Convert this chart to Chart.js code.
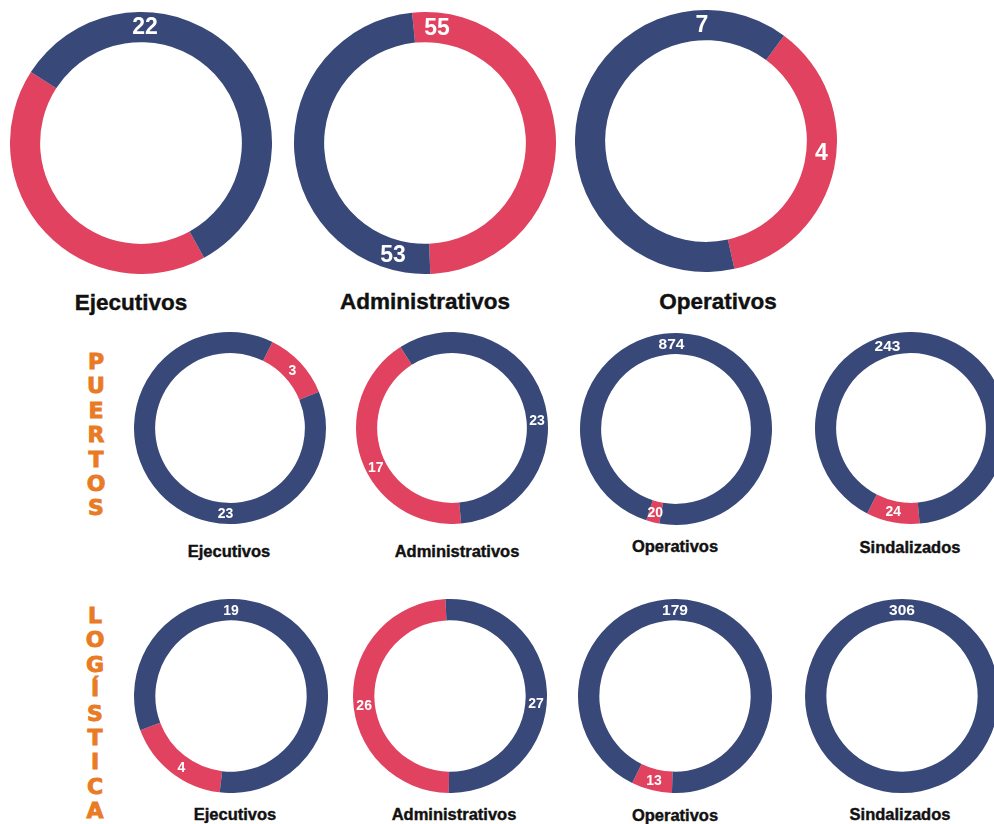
<!DOCTYPE html>
<html>
<head>
<meta charset="utf-8">
<script src="https://cdn.jsdelivr.net/npm/chart.js@4.4.1/dist/chart.umd.min.js"></script>
<style>
  body { margin: 0; width: 994px; height: 824px; overflow: hidden; background: #fff; position: relative;
         font-family: "Liberation Sans", Arial, sans-serif; }
  canvas { position: absolute; }
  .name { position: absolute; font-weight: bold; color: #111; line-height: 1; white-space: nowrap;
          transform: translate(-50%, -50%); -webkit-text-stroke: 0.4px #111; }
  .big { font-size: 22.5px; }
  .small { font-size: 16.5px; }
  .side { position: absolute; width: 20px; color: #E97B25; font-weight: bold; font-size: 22px;
          font-family: "DejaVu Sans", sans-serif; -webkit-text-stroke: 0.9px #E97B25;
          line-height: 24.4px; text-align: center; word-break: break-all; }
</style>
</head>
<body>

<div class="side" id="sidePuertos" style="left:86px; top:350px;"></div>
<div class="side" id="sideLogistica" style="left:85px; top:604px;"></div>

<canvas id="g0" width="262" height="262" style="left:10px; top:12px;"></canvas>
<canvas id="g1" width="262" height="262" style="left:294px; top:12px;"></canvas>
<canvas id="g2" width="262" height="262" style="left:575px; top:10px;"></canvas>

<canvas id="p0" width="192" height="192" style="left:134px; top:332px;"></canvas>
<canvas id="p1" width="192" height="192" style="left:356px; top:332px;"></canvas>
<canvas id="p2" width="192" height="192" style="left:580px; top:333px;"></canvas>
<canvas id="p3" width="192" height="192" style="left:815px; top:332px;"></canvas>

<canvas id="l0" width="194" height="194" style="left:134px; top:599px;"></canvas>
<canvas id="l1" width="194" height="194" style="left:353px; top:599px;"></canvas>
<canvas id="l2" width="194" height="194" style="left:578px; top:599px;"></canvas>
<canvas id="l3" width="194" height="194" style="left:805px; top:599px;"></canvas>

<script>
const groupNames = ["PUERTOS", "LOGÍSTICA"];
const generalCategories = ["Ejecutivos", "Administrativos", "Operativos"];
const categories = ["Ejecutivos", "Administrativos", "Operativos", "Sindalizados"];

// navy and red parts of each ring
const generalNavy = [22, 53, 7];
const generalRed = [16, 55, 4];     // first one has no number printed, estimated from the arc
const puertosNavy = [23, 23, 874, 243];
const puertosRed = [3, 17, 20, 24];
const logisticaNavy = [19, 27, 179, 306];
const logisticaRed = [4, 26, 13, 0];

const NAVY = "#384878";
const RED = "#E0425F";

// where the red part is centred (degrees clockwise from top) and where the numbers sit [red, navy]
const generalRedCentre = [227, 86, 102];
const generalLabelAt = [[null, 2], [6, 196], [96, 358]];
const puertosRedCentre = [47, 251, 194, 191];
const puertosLabelAt = [[47, 183], [243, 85], [194, 357], [192, 344]];
const logisticaRedCentre = [218, 269, 194, 0];
const logisticaLabelAt = [[215, 0], [264, 95], [194, 0], [null, 0]];

document.getElementById("sidePuertos").textContent = groupNames[0];
document.getElementById("sideLogistica").textContent = groupNames[1];

const ringLabels = {
    id: "ringLabels",
    afterDatasetsDraw(chart, args, opts) {
        const ctx = chart.ctx;
        const values = chart.data.datasets[0].data;
        ctx.save();
        ctx.fillStyle = "#fff";
        ctx.textAlign = "center";
        ctx.textBaseline = "middle";
        chart.getDatasetMeta(0).data.forEach((arc, i) => {
            const ang = opts.angles[i];
            if (ang === null || !values[i]) return;
            const p = arc.getProps(["x", "y", "innerRadius", "outerRadius"], true);
            const r = (p.innerRadius + p.outerRadius) / 2;
            const a = ang * Math.PI / 180;
            const size = values[i] >= 100 ? opts.size + 1.5 : opts.size;
            ctx.font = `bold ${size}px "Liberation Sans", Arial, sans-serif`;
            ctx.fillText(String(values[i]), p.x + r * Math.sin(a), p.y - r * Math.cos(a) + 1);
        });
        ctx.restore();
    }
};

function makeRing(id, red, navy, redCentre, angles, cutout, size) {
    const total = red + navy;
    const redSpan = total ? red / total * 360 : 0;
    new Chart(document.getElementById(id), {
        type: "doughnut",
        data: {
            datasets: [{
                data: [red, navy],
                backgroundColor: [RED, NAVY],
                borderWidth: 0
            }]
        },
        options: {
            responsive: false,
            animation: false,
            events: [],
            cutout: cutout,
            rotation: redCentre - redSpan / 2,
            plugins: {
                legend: {display: false},
                tooltip: {enabled: false},
                ringLabels: {angles: angles, size: size}
            }
        },
        plugins: [ringLabels]
    });
}

function addName(text, x, y, cls) {
    const el = document.createElement("div");
    el.className = "name " + cls;
    el.textContent = text;
    el.style.left = x + "px";
    el.style.top = y + "px";
    document.body.appendChild(el);
}

generalCategories.forEach((c, i) => {
    makeRing("g" + i, generalRed[i], generalNavy[i], generalRedCentre[i], generalLabelAt[i], "77%", 23);
});
categories.forEach((c, i) => {
    makeRing("p" + i, puertosRed[i], puertosNavy[i], puertosRedCentre[i], puertosLabelAt[i], "78%", 14);
    makeRing("l" + i, logisticaRed[i], logisticaNavy[i], logisticaRedCentre[i], logisticaLabelAt[i], "78%", 14);
});

// names under the rings
const generalNameX = [131, 425, 718], generalNameY = [303, 302, 302];
const puertosNameX = [229, 457, 675, 910], puertosNameY = [551, 551, 546, 547];
const logisticaNameX = [235, 454, 675, 900], logisticaNameY = [814, 814, 815, 814];
generalCategories.forEach((c, i) => addName(c, generalNameX[i], generalNameY[i], "big"));
categories.forEach((c, i) => addName(c, puertosNameX[i], puertosNameY[i], "small"));
categories.forEach((c, i) => addName(c, logisticaNameX[i], logisticaNameY[i], "small"));
</script>
</body>
</html>
